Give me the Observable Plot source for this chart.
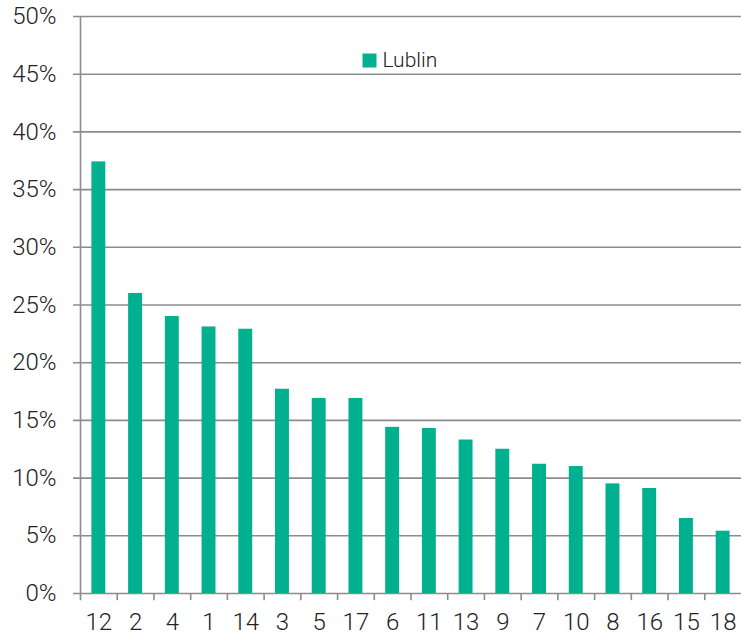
<!DOCTYPE html>
<html>
<head>
<meta charset="utf-8">
<script src="https://cdn.jsdelivr.net/npm/d3@7"></script>
<script src="https://cdn.jsdelivr.net/npm/@observablehq/plot@0.6"></script>
<style>
  html, body { margin: 0; padding: 0; background: #fff; }
  #chart svg { display: block; }
</style>
</head>
<body>
<div id="chart"></div>
<script>
const categories = ["12","2","4","1","14","3","5","17","6","11","13","9","7","10","8","16","15","18"];
const values = [0.374,0.260,0.240,0.231,0.229,0.177,0.169,0.169,0.144,0.143,0.133,0.125,0.112,0.110,0.095,0.091,0.065,0.054];
const yTicks = [0,0.05,0.10,0.15,0.20,0.25,0.30,0.35,0.40,0.45,0.50];
const seriesName = "Lublin";

const data = categories.map((c, i) => ({cat: c, value: values[i]}));

const W = 741, H = 639;
const mL = 80, mR = 0, mT = 16, mB = 46;
const bw = (W - mL - mR) / categories.length;
const green = "#00b08f";
const grid = "#8c8c8c";
const font = "Roboto, 'DejaVu Sans', sans-serif";

const chart = Plot.plot({
  width: W,
  height: H,
  marginLeft: mL,
  marginRight: mR,
  marginTop: mT,
  marginBottom: mB,
  style: {fontFamily: font, fontSize: "24px", fontWeight: 300, color: "#222", background: "#fff"},
  x: {domain: categories, padding: 0, round: false, label: null},
  y: {domain: [0, 0.5], label: null},
  marks: [
    Plot.ruleY(yTicks, {stroke: grid, strokeWidth: 1.6, insetLeft: -7}),
    Plot.axisY({ticks: yTicks, tickFormat: d => Math.round(d * 100) + "%", tickSize: 0, tickPadding: 24, fontSize: 24, fill: "#222", label: null}),
    Plot.barY(data, {x: "cat", y: "value", fill: green, insetLeft: 11.4, insetRight: 11.4}),
    Plot.ruleX(categories, {x: d => d, dx: -bw / 2, y1: -0.0062, y2: (d, i) => i === 0 ? 0.5 : 0, stroke: grid, strokeWidth: 1.6}),
    Plot.axisX({tickSize: 0, tickPadding: 19, fontSize: 24, fill: "#222", label: null}),
    Plot.dot([seriesName], {frameAnchor: "top-left", dx: 289, dy: 44, symbol: "square", r: 7.9, fill: green, stroke: null}),
    Plot.text([seriesName], {frameAnchor: "top-left", dx: 302, dy: 44, text: d => d, textAnchor: "start", lineAnchor: "middle", fontSize: 21, fill: "#222"})
  ]
});
document.getElementById("chart").appendChild(chart);
</script>
</body>
</html>
